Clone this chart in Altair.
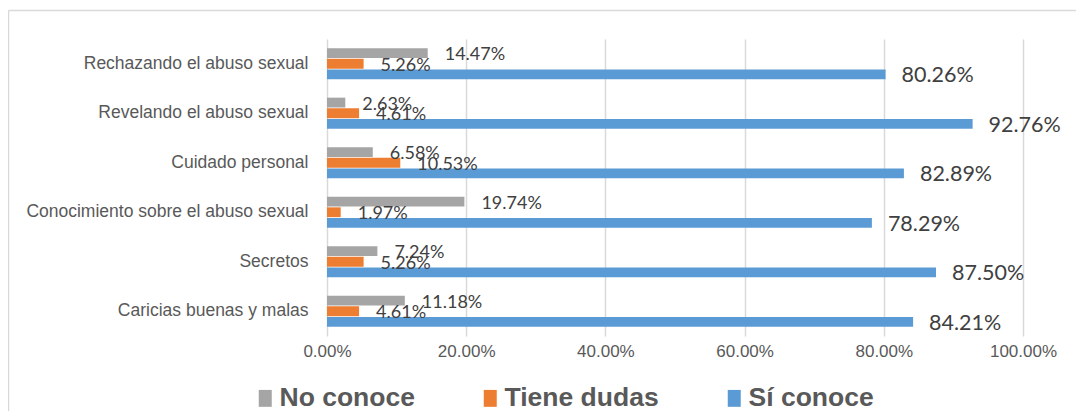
import altair as alt
import pandas as pd

categorias = [
    "Rechazando el abuso sexual",
    "Revelando el abuso sexual",
    "Cuidado personal",
    "Conocimiento sobre el abuso sexual",
    "Secretos",
    "Caricias buenas y malas",
]
series = ["No conoce", "Tiene dudas", "Sí conoce"]
no_conoce = [14.47, 2.63, 6.58, 19.74, 7.24, 11.18]
tiene_dudas = [5.26, 4.61, 10.53, 1.97, 5.26, 4.61]
si_conoce = [80.26, 92.76, 82.89, 78.29, 87.50, 84.21]
colores = ["#A5A5A5", "#ED7D31", "#5B9BD5"]
ticks_x = [0, 20, 40, 60, 80, 100]

rows = []
for serie, vals in zip(series, [no_conoce, tiene_dudas, si_conoce]):
    for c, v in zip(categorias, vals):
        rows.append({"cat": c, "serie": serie, "v": v})
df = pd.DataFrame(rows)

SANS = "Liberation Sans"

y_enc = alt.Y(
    "cat:N",
    sort=categorias,
    scale=alt.Scale(paddingInner=0.37, paddingOuter=0.185),
    axis=alt.Axis(
        title=None, ticks=False, tickSize=0, domain=False, labelPadding=19,
        labelFont=SANS, labelFontSize=17.5, labelColor="#595959", labelLimit=500,
    ),
)
yoff_enc = alt.YOffset("serie:N", sort=series,
                       scale=alt.Scale(domain=series, paddingInner=0.08))
x_enc = alt.X(
    "v:Q",
    scale=alt.Scale(domain=[0, 100]),
    axis=alt.Axis(
        title=None, values=ticks_x,
        labelExpr="format(datum.value, '.2f') + '%'",
        labelFlush=False,
        grid=True, gridColor="#d9d9d9", gridWidth=1.5,
        ticks=False, tickSize=0, domain=False, labelPadding=7,
        labelFont=SANS, labelFontSize=17, labelColor="#595959",
    ),
)

base = alt.Chart(df)

bars = base.mark_bar().encode(
    y=y_enc,
    x=x_enc,
    yOffset=yoff_enc,
    color=alt.Color(
        "serie:N",
        scale=alt.Scale(domain=series, range=colores),
        legend=alt.Legend(
            orient="none", legendX=-75, legendY=346, direction="horizontal",
            title=None, labelFont=SANS, labelFontWeight="bold",
            labelFontSize=26.5, labelColor="#595959", labelLimit=400,
            symbolType="M-1,-1.3H1V1.3H-1Z", symbolSize=169,
            symbolStrokeWidth=0, symbolOpacity=1,
            labelOffset=1, columnPadding=62, padding=0, rowPadding=0,
        ),
    ),
)

lab_base = base.transform_calculate(lab="format(datum.v, '.2f') + '%'")

labels_small = lab_base.transform_filter(
    alt.FieldOneOfPredicate(field="serie", oneOf=series[:2])
).mark_text(
    align="left", baseline="middle", dx=17, dy=2, font="Lato", fontSize=18,
    color="#404040",
).encode(
    y=alt.Y("cat:N", sort=categorias),
    x=alt.X("v:Q"),
    yOffset=alt.YOffset("serie:N", sort=series),
    text="lab:N",
)

labels_big = lab_base.transform_filter(
    alt.FieldEqualPredicate(field="serie", equal=series[2])
).mark_text(
    align="left", baseline="middle", dx=16, dy=2, font="Lato", fontSize=21.5,
    color="#404040",
).encode(
    y=alt.Y("cat:N", sort=categorias),
    x=alt.X("v:Q"),
    yOffset=alt.YOffset("serie:N", sort=series),
    text="lab:N",
)

one = alt.Data(values=[{}])
frame_top = alt.Chart(one).mark_rule(color="#d9d9d9", strokeWidth=1.5).encode(
    x=alt.value(-318.5), x2=alt.value(800), y=alt.value(-28.5)
)
frame_left = alt.Chart(one).mark_rule(color="#d9d9d9", strokeWidth=1.5).encode(
    x=alt.value(-318.5), y=alt.value(-28.5), y2=alt.value(400)
)

chart = alt.layer(frame_top, frame_left, bars, labels_small, labels_big).properties(
    width=696,
    height=297,
    padding={"left": 319, "top": 31, "right": 53, "bottom": 75},
    autosize=alt.AutoSizeParams(type="none"),
    background="white",
).configure_view(stroke=None)

chart.save("out.html", embed_options={"renderer": "svg", "actions": False})
